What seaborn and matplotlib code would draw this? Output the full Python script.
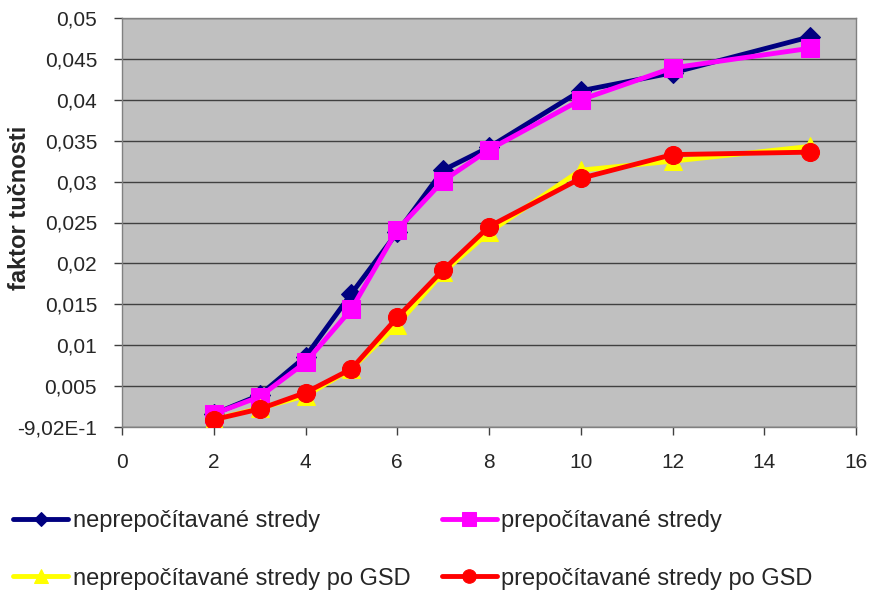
import matplotlib
matplotlib.use("Agg")
import matplotlib.pyplot as plt
import seaborn as sns
import pandas as pd
import numpy as np

x_vals = [2, 3, 4, 5, 6, 7, 8, 10, 12, 15]
neprep = [0.0016, 0.0039, 0.0086, 0.0163, 0.0238, 0.0314, 0.0342, 0.0411, 0.0433, 0.0477]
prep = [0.0016, 0.0037, 0.0079, 0.0144, 0.0241, 0.0301, 0.0339, 0.0400, 0.0439, 0.0463]
neprep_gsd = [0.0009, 0.0023, 0.0038, 0.0071, 0.0125, 0.0189, 0.0238, 0.0314, 0.0325, 0.0343]
prep_gsd = [0.0009, 0.0022, 0.0042, 0.0071, 0.0134, 0.0192, 0.0245, 0.0304, 0.0333, 0.0336]

labels = ["neprepočítavané stredy", "prepočítavané stredy",
          "neprepočítavané stredy po GSD", "prepočítavané stredy po GSD"]
y_ticks = [0, 0.005, 0.01, 0.015, 0.02, 0.025, 0.03, 0.035, 0.04, 0.045, 0.05]
y_tick_labels = ["-9,02E-1", "0,005", "0,01", "0,015", "0,02", "0,025", "0,03",
                 "0,035", "0,04", "0,045", "0,05"]
x_ticks = [0, 2, 4, 6, 8, 10, 12, 14, 16]
y_label = "faktor tučnosti"

sns.set_theme(style="white")
plt.rcParams['font.family'] = ['Liberation Sans', 'DejaVu Sans']

fig = plt.figure(figsize=(8.72, 5.92), dpi=100)
ax = fig.add_axes([122/872, 1 - 427/592, (856-122)/872, (427-18)/592])
ax.set_facecolor("#C0C0C0")

styles = [
    dict(color="#000080", marker="D", markersize=10, zorder=3),
    dict(color="#FF00FF", marker="s", markersize=13, zorder=4),
    dict(color="#FFFF00", marker="^", markersize=13, zorder=5),
    dict(color="#FF0000", marker="o", markersize=13, zorder=6),
]
series = [neprep, prep, neprep_gsd, prep_gsd]
handles = []
for vals, lab, st in zip(series, labels, styles):
    df = pd.DataFrame({"x": x_vals, "y": vals})
    sns.lineplot(data=df, x="x", y="y", ax=ax, color=st["color"], linewidth=3.5,
                 marker=st["marker"], markersize=st["markersize"],
                 markeredgecolor=st["color"], markerfacecolor=st["color"],
                 zorder=st["zorder"], label=lab, legend=False)
    handles.append(ax.lines[-1])

ax.set_xlim(0, 16)
ax.set_ylim(0, 0.05)
ax.set_xticks(x_ticks)
ax.set_xticklabels([str(t) for t in x_ticks], fontsize=15)
ax.set_yticks(y_ticks)
ax.set_yticklabels(y_tick_labels, fontsize=15)
ax.yaxis.grid(True, color="#404040", linewidth=1)
ax.set_axisbelow(True)
ax.set_xlabel("")
ax.set_ylabel(y_label, fontsize=17, fontweight="bold")
ax.yaxis.set_label_coords(-0.124, 0.535)
for s in ax.spines.values():
    s.set_color("#808080")
    s.set_linewidth(1)
ax.tick_params(axis="both", direction="out", length=6, width=1, color="#404040",
               left=True, bottom=True)
ax.tick_params(axis="y", pad=12)
ax.tick_params(axis="x", pad=13)

order = [0, 2, 1, 3]
leg = fig.legend([handles[i] for i in order], [labels[i] for i in order],
                 ncol=2, loc="upper left", bbox_to_anchor=(13/872, 1 - 510/592),
                 frameon=False, fontsize=17, handlelength=2.33, handletextpad=0.2,
                 labelspacing=1.51, columnspacing=1.32, borderaxespad=0, borderpad=0,
                 markerscale=0.75)

fig.savefig("out.png", dpi=100)
